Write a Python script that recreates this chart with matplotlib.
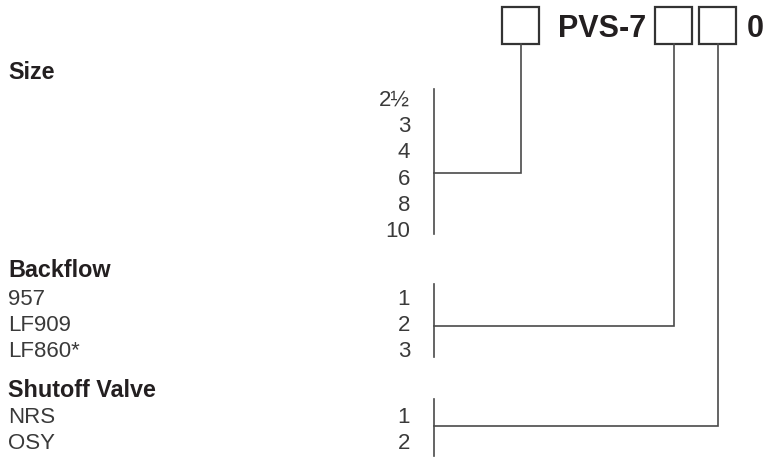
import matplotlib.pyplot as plt
from matplotlib.patches import Rectangle

# model number parts
prefix = "PVS-7"
suffix = "0"

# option groups
size_codes = ["2½", "3", "4", "6", "8", "10"]
backflow_names = ["957", "LF909", "LF860*"]
backflow_codes = ["1", "2", "3"]
valve_names = ["NRS", "OSY"]
valve_codes = ["1", "2"]

ink = "#231f20"
line_col = "#4a4a4a"
step = 26.2

fig = plt.figure(figsize=(7.68, 4.57), dpi=100)
ax = fig.add_axes([0, 0, 1, 1])
ax.set_xlim(0, 768)
ax.set_ylim(457, 0)
ax.axis("off")

# boxes along the top
box_x = [502, 655, 699]
for bx in box_x:
    ax.add_patch(Rectangle((bx, 7), 37, 37, fill=False, ec="#333333", lw=1.6))
ax.text(558, 37, prefix, fontsize=22, fontweight="bold", color=ink,
        family="Liberation Sans", va="baseline", ha="left")
ax.text(747, 37, suffix, fontsize=22, fontweight="bold", color=ink,
        family="Liberation Sans", va="baseline", ha="left")


def section(title, title_y, first_y, names, codes, top, bottom, join_y, box_i):
    ax.text(8, title_y, title, fontsize=16.8, fontweight="bold", color=ink,
            family="Liberation Sans", va="baseline")
    for i, c in enumerate(codes):
        y = first_y + i * step
        if names:
            ax.text(8, y, names[i], fontsize=16, color="#3a3a3a",
                    family="Liberation Sans", va="baseline")
        ax.text(410, y, c, fontsize=16, color="#3a3a3a",
                family="Liberation Sans", va="baseline", ha="right")
    bx = box_x[box_i] + 18.5
    ax.plot([434, 434], [top, bottom], color=line_col, lw=1.2)
    ax.plot([434, bx, bx], [join_y, join_y, 44], color=line_col, lw=1.2,
            solid_joinstyle="miter")


section("Size", 79, 106, None, size_codes, 89, 234, 173, 0)
section("Backflow", 277, 305, backflow_names, backflow_codes, 284, 357, 326, 1)
section("Shutoff Valve", 397, 423, valve_names, valve_codes, 399, 456, 426, 2)

fig.savefig("out.png", dpi=100)
